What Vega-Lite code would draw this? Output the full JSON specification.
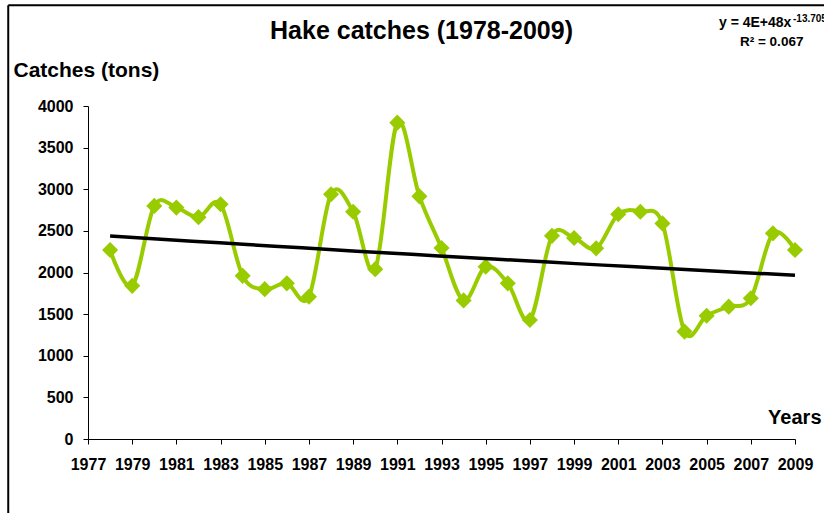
{
  "$schema": "https://vega.github.io/schema/vega-lite/v6.json",
  "width": 707,
  "height": 333,
  "autosize": {"type": "none"},
  "padding": {"left": 88, "top": 106, "right": 29, "bottom": 74},
  "background": "white",
  "title": {
    "text": "Hake catches (1978-2009)",
    "font": "Liberation Sans",
    "fontSize": 25,
    "fontWeight": "bold",
    "color": "black",
    "anchor": "middle",
    "frame": "group",
    "dx": -20,
    "offset": -60,
    "baseline": "alphabetic"
  },
  "config": {
    "view": {"stroke": null},
    "axis": {
      "labelFont": "Liberation Sans",
      "labelFontWeight": "bold",
      "labelFontSize": 16,
      "labelColor": "black",
      "titleFont": "Liberation Sans",
      "titleFontWeight": "bold",
      "titleFontSize": 20,
      "titleColor": "black",
      "domainColor": "black",
      "tickColor": "black",
      "tickSize": 5,
      "grid": false
    },
    "text": {"font": "Liberation Sans", "fontWeight": "bold", "color": "black"}
  },
  "resolve": {"axis": {"x": "independent", "y": "independent"}},
  "datasets": {
    "catches": [
      {"year": 1978, "catch": 2270},
      {"year": 1979, "catch": 1840},
      {"year": 1980, "catch": 2800},
      {"year": 1981, "catch": 2780},
      {"year": 1982, "catch": 2665},
      {"year": 1983, "catch": 2820},
      {"year": 1984, "catch": 1960},
      {"year": 1985, "catch": 1800},
      {"year": 1986, "catch": 1870},
      {"year": 1987, "catch": 1710},
      {"year": 1988, "catch": 2940},
      {"year": 1989, "catch": 2730},
      {"year": 1990, "catch": 2040},
      {"year": 1991, "catch": 3800},
      {"year": 1992, "catch": 2915},
      {"year": 1993, "catch": 2295},
      {"year": 1994, "catch": 1665},
      {"year": 1995, "catch": 2070},
      {"year": 1996, "catch": 1870},
      {"year": 1997, "catch": 1430},
      {"year": 1998, "catch": 2440},
      {"year": 1999, "catch": 2415},
      {"year": 2000, "catch": 2290},
      {"year": 2001, "catch": 2700},
      {"year": 2002, "catch": 2730},
      {"year": 2003, "catch": 2590},
      {"year": 2004, "catch": 1290},
      {"year": 2005, "catch": 1480},
      {"year": 2006, "catch": 1590},
      {"year": 2007, "catch": 1690},
      {"year": 2008, "catch": 2470},
      {"year": 2009, "catch": 2270}
    ]
  },
  "layer": [
    {
      "data": {"name": "catches"},
      "encoding": {
        "x": {
          "field": "year",
          "type": "quantitative",
          "scale": {"domain": [1977, 2009], "nice": false, "zero": false},
          "axis": {
            "values": [1977, 1979, 1981, 1983, 1985, 1987, 1989, 1991, 1993, 1995, 1997, 1999, 2001, 2003, 2005, 2007, 2009],
            "format": "d",
            "labelPadding": 12,
            "labelFlush": false,
            "labelOverlap": false,
            "title": "Years",
            "titleX": 733,
            "titleY": -16,
            "titleAlign": "right",
            "titleBaseline": "alphabetic"
          }
        },
        "y": {
          "field": "catch",
          "type": "quantitative",
          "scale": {"domain": [0, 4000], "nice": false},
          "axis": {
            "values": [0, 500, 1000, 1500, 2000, 2500, 3000, 3500, 4000],
            "format": "d",
            "labelPadding": 10,
            "title": "Catches (tons)",
            "titleFontSize": 21,
            "titleAngle": 0,
            "titleX": -75,
            "titleY": -30,
            "titleAlign": "left",
            "titleBaseline": "alphabetic"
          }
        }
      },
      "layer": [
        {
          "mark": {"type": "line", "interpolate": "cardinal", "color": "#99CC00", "strokeWidth": 4}
        },
        {
          "mark": {"type": "point", "shape": "diamond", "filled": true, "size": 260, "color": "#99CC00", "opacity": 1}
        },
        {
          "transform": [{"regression": "catch", "on": "year", "method": "pow", "extent": [1978, 2009]}],
          "mark": {"type": "line", "color": "black", "strokeWidth": 3.5}
        }
      ]
    },
    {
      "data": {"values": [{}]},
      "mark": {"type": "rule", "color": "black", "strokeWidth": 2, "clip": false},
      "encoding": {
        "x": {"datum": 1973.39, "type": "quantitative", "axis": null},
        "x2": {"datum": 2012},
        "y": {"datum": 5210, "type": "quantitative", "axis": null}
      }
    },
    {
      "data": {"values": [{}]},
      "mark": {"type": "rule", "color": "black", "strokeWidth": 2, "clip": false},
      "encoding": {
        "x": {"datum": 1973.39, "type": "quantitative", "axis": null},
        "y": {"datum": 5210, "type": "quantitative", "axis": null},
        "y2": {"datum": -1000}
      }
    },
    {
      "data": {"values": [{"label": "y = 4E+48x"}]},
      "mark": {"type": "text", "align": "left", "baseline": "alphabetic", "fontSize": 14},
      "encoding": {
        "x": {"datum": 2005.56, "type": "quantitative", "axis": null},
        "y": {"datum": 4943, "type": "quantitative", "axis": null},
        "text": {"field": "label"}
      }
    },
    {
      "data": {"values": [{"label": "-13.705"}]},
      "mark": {"type": "text", "align": "left", "baseline": "alphabetic", "fontSize": 10},
      "encoding": {
        "x": {"datum": 2008.91, "type": "quantitative", "axis": null},
        "y": {"datum": 5013, "type": "quantitative", "axis": null},
        "text": {"field": "label"}
      }
    },
    {
      "data": {"values": [{"label": "R² = 0.067"}]},
      "mark": {"type": "text", "align": "left", "baseline": "alphabetic", "fontSize": 13.5},
      "encoding": {
        "x": {"datum": 2006.51, "type": "quantitative", "axis": null},
        "y": {"datum": 4724, "type": "quantitative", "axis": null},
        "text": {"field": "label"}
      }
    }
  ]
}
